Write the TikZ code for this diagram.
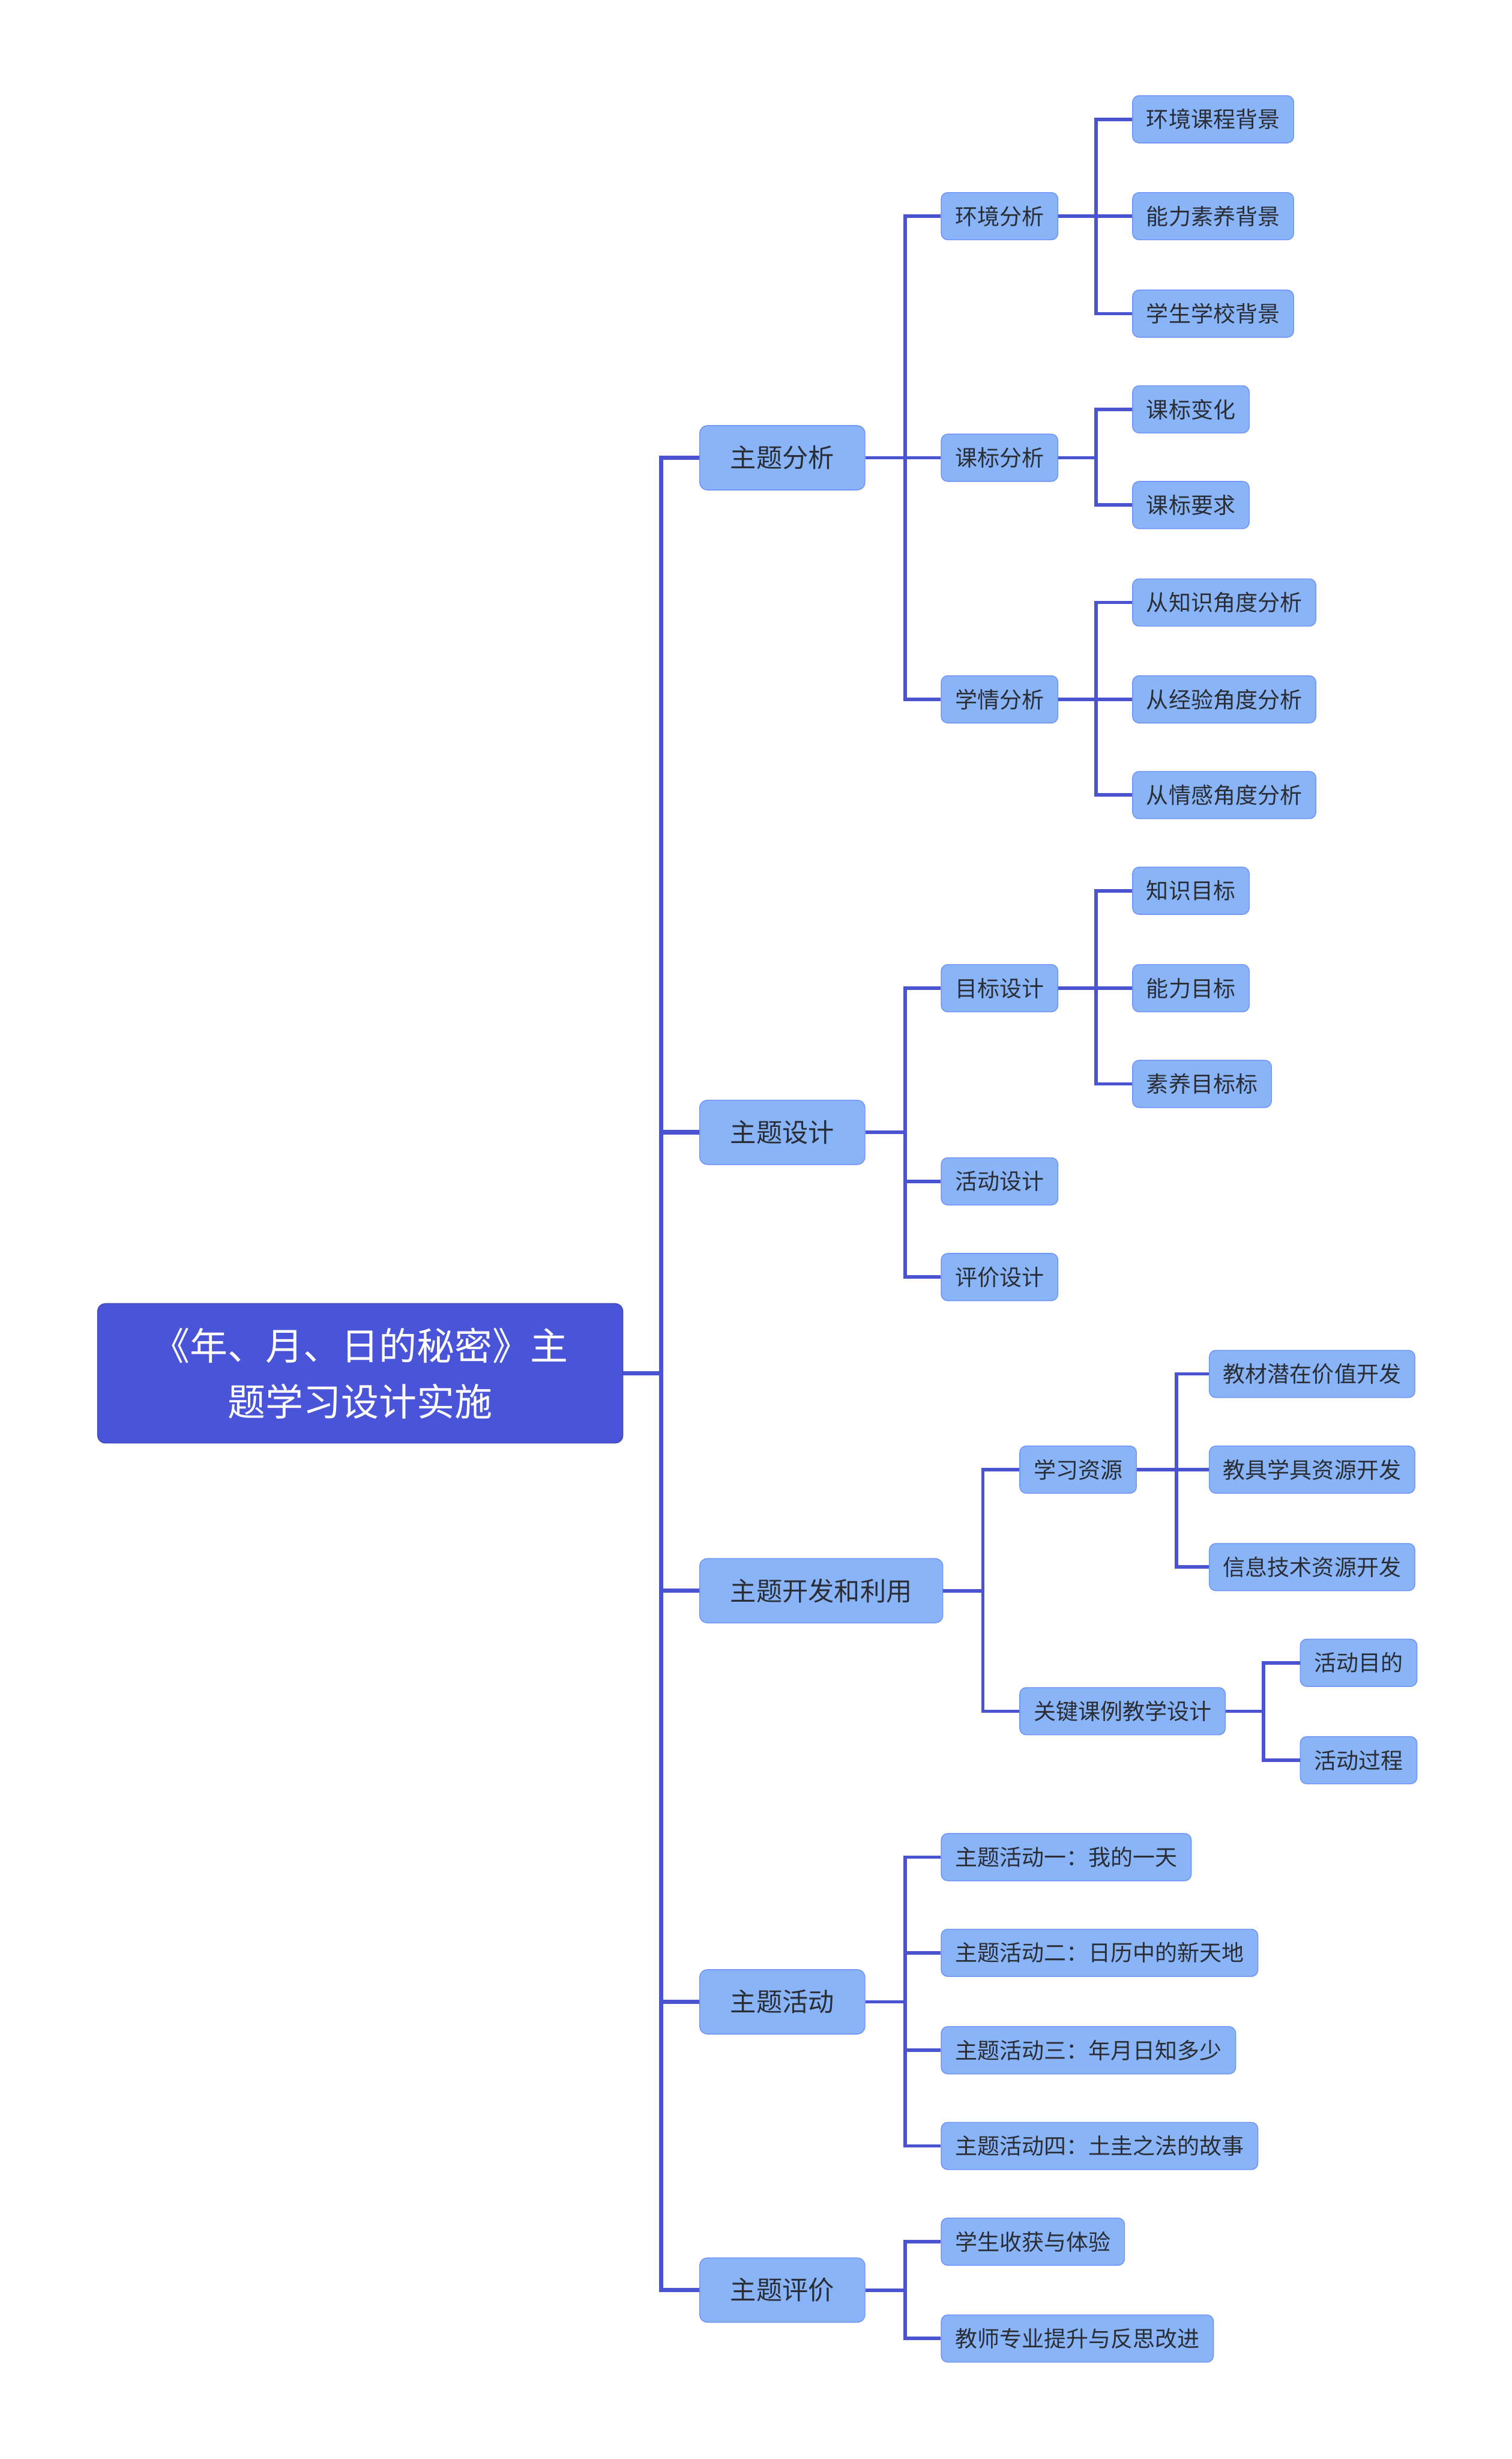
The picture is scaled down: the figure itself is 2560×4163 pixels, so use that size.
\documentclass[tikz,border=0pt]{standalone}
\usepackage{fontspec}
\setmainfont{Noto Sans CJK SC}
\usepackage{tikz}
\definecolor{rootblue}{HTML}{4A54D8}
\definecolor{nodeblue}{HTML}{8AB4F8}
\definecolor{linkblue}{HTML}{4A54D0}
\definecolor{inkdark}{HTML}{2A2D34}
\tikzset{
  rootbox/.style={fill=rootblue,draw=rootblue!85!black,rounded corners=0.13cm,align=center,
    minimum width=8.89cm,minimum height=2.36cm,text=white,font=\fontsize{18.2}{27}\selectfont},
  topic/.style={fill=nodeblue,draw=nodeblue!80!blue,rounded corners=0.13cm,anchor=west,
    minimum height=1.09cm,inner xsep=0.52cm,text=inkdark,font=\fontsize{12.5}{15}\selectfont},
  leaf/.style={fill=nodeblue,draw=nodeblue!80!blue,rounded corners=0.11cm,anchor=west,
    minimum height=0.80cm,inner xsep=0.235cm,text=inkdark,font=\fontsize{10.7}{13}\selectfont},
  trunk/.style={draw=linkblue,line width=0.075cm},
  link/.style={draw=linkblue,line width=0.058cm}
}

\begin{document}
\begin{tikzpicture}[x=0.01cm,y=-0.01cm]
  \useasboundingbox (0,0) rectangle (2560,4163);
  % root
  \node[rootbox] (root) at (610,2325) {《年、月、日的秘密》主\\题学习设计实施};
  % first level
  \node[topic] (fx) at (1184,775) {主题分析};
  \node[topic] (sj) at (1184,1917) {主题设计};
  \node[topic] (ky) at (1184,2693) {主题开发和利用};
  \node[topic] (hd) at (1184,3389) {主题活动};
  \node[topic] (pj) at (1184,3877) {主题评价};
  % 主题分析
  \node[leaf] (hjfx) at (1593,366) {环境分析};
  \node[leaf] (kbfx) at (1593,775) {课标分析};
  \node[leaf] (xqfx) at (1593,1184) {学情分析};
  \node[leaf] (hjkc) at (1917,202) {环境课程背景};
  \node[leaf] (nlsy) at (1917,366) {能力素养背景};
  \node[leaf] (xsxx) at (1917,531) {学生学校背景};
  \node[leaf] (kbbh) at (1917,693) {课标变化};
  \node[leaf] (kbyq) at (1917,855) {课标要求};
  \node[leaf] (zsjd) at (1917,1020) {从知识角度分析};
  \node[leaf] (jyjd) at (1917,1184) {从经验角度分析};
  \node[leaf] (qgjd) at (1917,1346) {从情感角度分析};
  % 主题设计
  \node[leaf] (mbsj) at (1593,1673) {目标设计};
  \node[leaf] (hdsj) at (1593,2000) {活动设计};
  \node[leaf] (pjsj) at (1593,2162) {评价设计};
  \node[leaf] (zsmb) at (1917,1508) {知识目标};
  \node[leaf] (nlmb) at (1917,1673) {能力目标};
  \node[leaf] (symb) at (1917,1835) {素养目标标};
  % 主题开发和利用
  \node[leaf] (xxzy) at (1726,2488) {学习资源};
  \node[leaf] (gjkl) at (1726,2897) {关键课例教学设计};
  \node[leaf] (jcqz) at (2047,2326) {教材潜在价值开发};
  \node[leaf] (jjxj) at (2047,2488) {教具学具资源开发};
  \node[leaf] (xxjs) at (2047,2653) {信息技术资源开发};
  \node[leaf] (hdmd) at (2201,2815) {活动目的};
  \node[leaf] (hdgc) at (2201,2980) {活动过程};
  % 主题活动
  \node[leaf] (hd1) at (1593,3144) {主题活动一：我的一天};
  \node[leaf] (hd2) at (1593,3306) {主题活动二：日历中的新天地};
  \node[leaf] (hd3) at (1593,3471) {主题活动三：年月日知多少};
  \node[leaf] (hd4) at (1593,3633) {主题活动四：土圭之法的故事};
  % 主题评价
  \node[leaf] (xssh) at (1593,3795) {学生收获与体验};
  \node[leaf] (jszy) at (1593,3959) {教师专业提升与反思改进};

  % connectors
  \draw[trunk] (root.east) -- ++(64,0) coordinate (bus);
  \foreach \t in {fx,sj,ky,hd,pj}
    \draw[trunk] (bus) |- (\t.west);
  \foreach \c in {hjfx,kbfx,xqfx}
    \draw[link] (fx.east) -- ++(67,0) |- (\c.west);
  \foreach \c in {hjkc,nlsy,xsxx}
    \draw[link] (hjfx.east) -- ++(64,0) |- (\c.west);
  \foreach \c in {kbbh,kbyq}
    \draw[link] (kbfx.east) -- ++(64,0) |- (\c.west);
  \foreach \c in {zsjd,jyjd,qgjd}
    \draw[link] (xqfx.east) -- ++(64,0) |- (\c.west);
  \foreach \c in {mbsj,hdsj,pjsj}
    \draw[link] (sj.east) -- ++(67,0) |- (\c.west);
  \foreach \c in {zsmb,nlmb,symb}
    \draw[link] (mbsj.east) -- ++(64,0) |- (\c.west);
  \foreach \c in {xxzy,gjkl}
    \draw[link] (ky.east) -- ++(67,0) |- (\c.west);
  \foreach \c in {jcqz,jjxj,xxjs}
    \draw[link] (xxzy.east) -- ++(67,0) |- (\c.west);
  \foreach \c in {hdmd,hdgc}
    \draw[link] (gjkl.east) -- ++(64,0) |- (\c.west);
  \foreach \c in {hd1,hd2,hd3,hd4}
    \draw[link] (hd.east) -- ++(67,0) |- (\c.west);
  \foreach \c in {xssh,jszy}
    \draw[link] (pj.east) -- ++(67,0) |- (\c.west);
\end{tikzpicture}
\end{document}
